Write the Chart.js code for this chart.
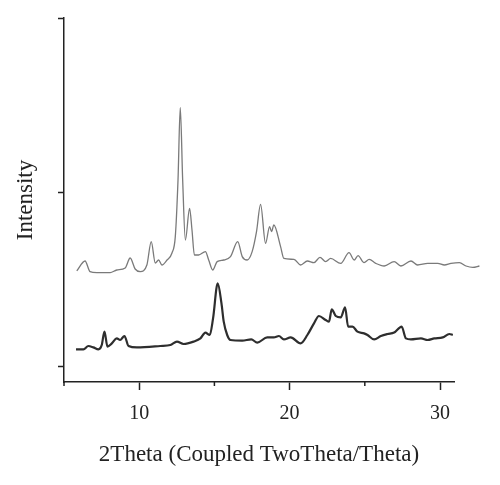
<!DOCTYPE html>
<html>
<head>
<meta charset="utf-8">
<script src="https://cdn.jsdelivr.net/npm/chart.js@4"></script>
<style>
  html, body { margin: 0; padding: 0; background: #fff; }
</style>
</head>
<body>
<canvas id="xrd" width="500" height="485"></canvas>
<script>
// 2theta positions and intensities (arbitrary units)
const upperTheta = [5.85, 6.4, 6.73, 7.18, 8.07, 8.51, 9.07, 9.4, 9.73, 10.07, 10.51, 10.8, 11.07, 11.29, 11.51,
  11.85, 12.18, 12.4, 12.58, 12.73, 12.89, 13.07, 13.35, 13.51, 13.67, 13.95, 14.4, 14.62, 14.89, 15.18,
  15.62, 16.07, 16.55, 16.85, 17.18, 17.51, 17.8, 18.07, 18.4, 18.67, 18.8, 18.95, 19.4, 19.62, 20.29,
  20.73, 21.18, 21.62, 22.02, 22.4, 22.73, 23.4, 23.95, 24.29, 24.55, 24.95, 25.29, 25.73, 26.29, 26.95,
  27.4, 28.07, 28.51, 29.18, 29.85, 30.29, 30.73, 31.29, 31.73, 32.18, 32.62];
const upperCounts = [476, 525, 472, 467, 467, 480, 490, 540, 485, 472, 505, 622, 515, 530, 505,
  530, 565, 647, 930, 1293, 930, 630, 788, 680, 555, 555, 572, 530, 480, 522,
  530, 547, 622, 547, 530, 572, 672, 808, 613, 697, 672, 705, 597, 538, 533,
  505, 525, 517, 543, 522, 538, 513, 567, 530, 552, 517, 533, 513, 500, 522,
  500, 525, 505, 513, 513, 505, 513, 517, 500, 493, 500];

const lowerTheta = [5.8, 6.29, 6.62, 6.95, 7.29, 7.51, 7.69, 7.89, 8.18, 8.51, 8.73, 9.02, 9.29, 9.85, 11.4,
  12.07, 12.51, 12.95, 13.62, 14.07, 14.4, 14.69, 14.91, 15.22, 15.47, 15.62, 15.85, 16.07, 16.85, 17.45,
  17.85, 18.51, 18.95, 19.29, 19.62, 20.07, 20.73, 21.18, 21.62, 21.95, 22.4, 22.62, 22.8, 23.07, 23.4,
  23.69, 23.89, 24.18, 24.51, 24.95, 25.18, 25.62, 26.07, 26.51, 26.95, 27.45, 27.73, 28.07, 28.73, 29.18,
  29.62, 30.18, 30.62, 30.85];
const lowerCounts = [83, 83, 100, 93, 83, 105, 172, 97, 113, 138, 130, 150, 100, 93, 100,
  105, 122, 110, 122, 138, 167, 155, 238, 413, 313, 222, 155, 130, 127, 133,
  117, 143, 143, 150, 133, 143, 113, 155, 213, 250, 230, 222, 283, 250, 243,
  293, 197, 197, 172, 163, 155, 133, 150, 160, 167, 197, 138, 133, 138, 130,
  138, 143, 160, 155];

const xMajorTicks = [10, 20, 30];
const xMinorTicks = [5, 15, 25];
const xRange = [5, 30.93];   // the upper scan runs on past the end of the axis
const yTicks = [0, 870, 1740];

const serif = "'Liberation Serif', 'DejaVu Serif', serif";

function toPoints(xs, ys) {
    let pts = [];
    for (let i = 0; i < xs.length; i++) {
        pts.push({x: xs[i], y: ys[i]});
    }
    return pts;
}

// short minor ticks under the x axis
const minorTickPlugin = {
    id: 'minorTicks',
    afterDraw: function (chart) {
        let ctx = chart.ctx;
        let xs = chart.scales.x;
        let y0 = chart.chartArea.bottom;
        ctx.save();
        ctx.strokeStyle = '#222';
        ctx.lineWidth = 1.5;
        xMinorTicks.forEach(function (v) {
            let px = xs.getPixelForValue(v);
            ctx.beginPath();
            ctx.moveTo(px, y0);
            ctx.lineTo(px, y0 + 4);
            ctx.stroke();
        });
        ctx.restore();
    }
};

new Chart(document.getElementById('xrd'), {
    type: 'line',
    data: {
        datasets: [
            {
                label: 'upper',
                data: toPoints(upperTheta, upperCounts),
                borderColor: '#7a7a7a',
                borderWidth: 1.3,
                pointRadius: 0,
                cubicInterpolationMode: 'monotone',
                clip: false
            },
            {
                label: 'lower',
                data: toPoints(lowerTheta, lowerCounts),
                borderColor: '#2e2e2e',
                borderWidth: 2.2,
                pointRadius: 0,
                cubicInterpolationMode: 'monotone',
                clip: false
            }
        ]
    },
    options: {
        responsive: false,
        animation: false,
        layout: {padding: {left: 0, right: 46, top: 18, bottom: 0}},
        plugins: {
            legend: {display: false},
            tooltip: {enabled: false}
        },
        scales: {
            x: {
                type: 'linear',
                bounds: 'data',
                // range set here (not min/max) so points past the axis end are still drawn
                afterDataLimits: function (scale) {
                    scale.min = xRange[0];
                    scale.max = xRange[1];
                },
                afterBuildTicks: function (scale) {
                    scale.ticks = xMajorTicks.map(function (v) { return {value: v}; });
                },
                afterFit: function (scale) { scale.height = 103; },
                border: {display: true, color: '#222', width: 1.5},
                grid: {drawOnChartArea: false, tickLength: 8, tickColor: '#222', tickWidth: 1.5},
                ticks: {
                    color: '#222',
                    padding: 12,
                    maxRotation: 0,
                    font: {family: serif, size: 20}
                },
                title: {
                    display: true,
                    text: '2Theta (Coupled TwoTheta/Theta)',
                    color: '#222',
                    padding: {top: 0, bottom: 16},
                    font: {family: serif, size: 23}
                }
            },
            y: {
                type: 'linear',
                min: -80,
                max: 1740,
                afterBuildTicks: function (scale) {
                    scale.ticks = yTicks.map(function (v) { return {value: v}; });
                },
                afterFit: function (scale) { scale.width = 64; },
                border: {display: true, color: '#222', width: 1.5},
                grid: {drawOnChartArea: false, tickLength: 6, tickColor: '#222', tickWidth: 1.5},
                ticks: {display: false},
                title: {
                    display: true,
                    text: 'Intensity',
                    color: '#222',
                    padding: {top: 12, bottom: 0},
                    font: {family: serif, size: 23}
                }
            }
        }
    },
    plugins: [minorTickPlugin]
});
</script>
</body>
</html>
